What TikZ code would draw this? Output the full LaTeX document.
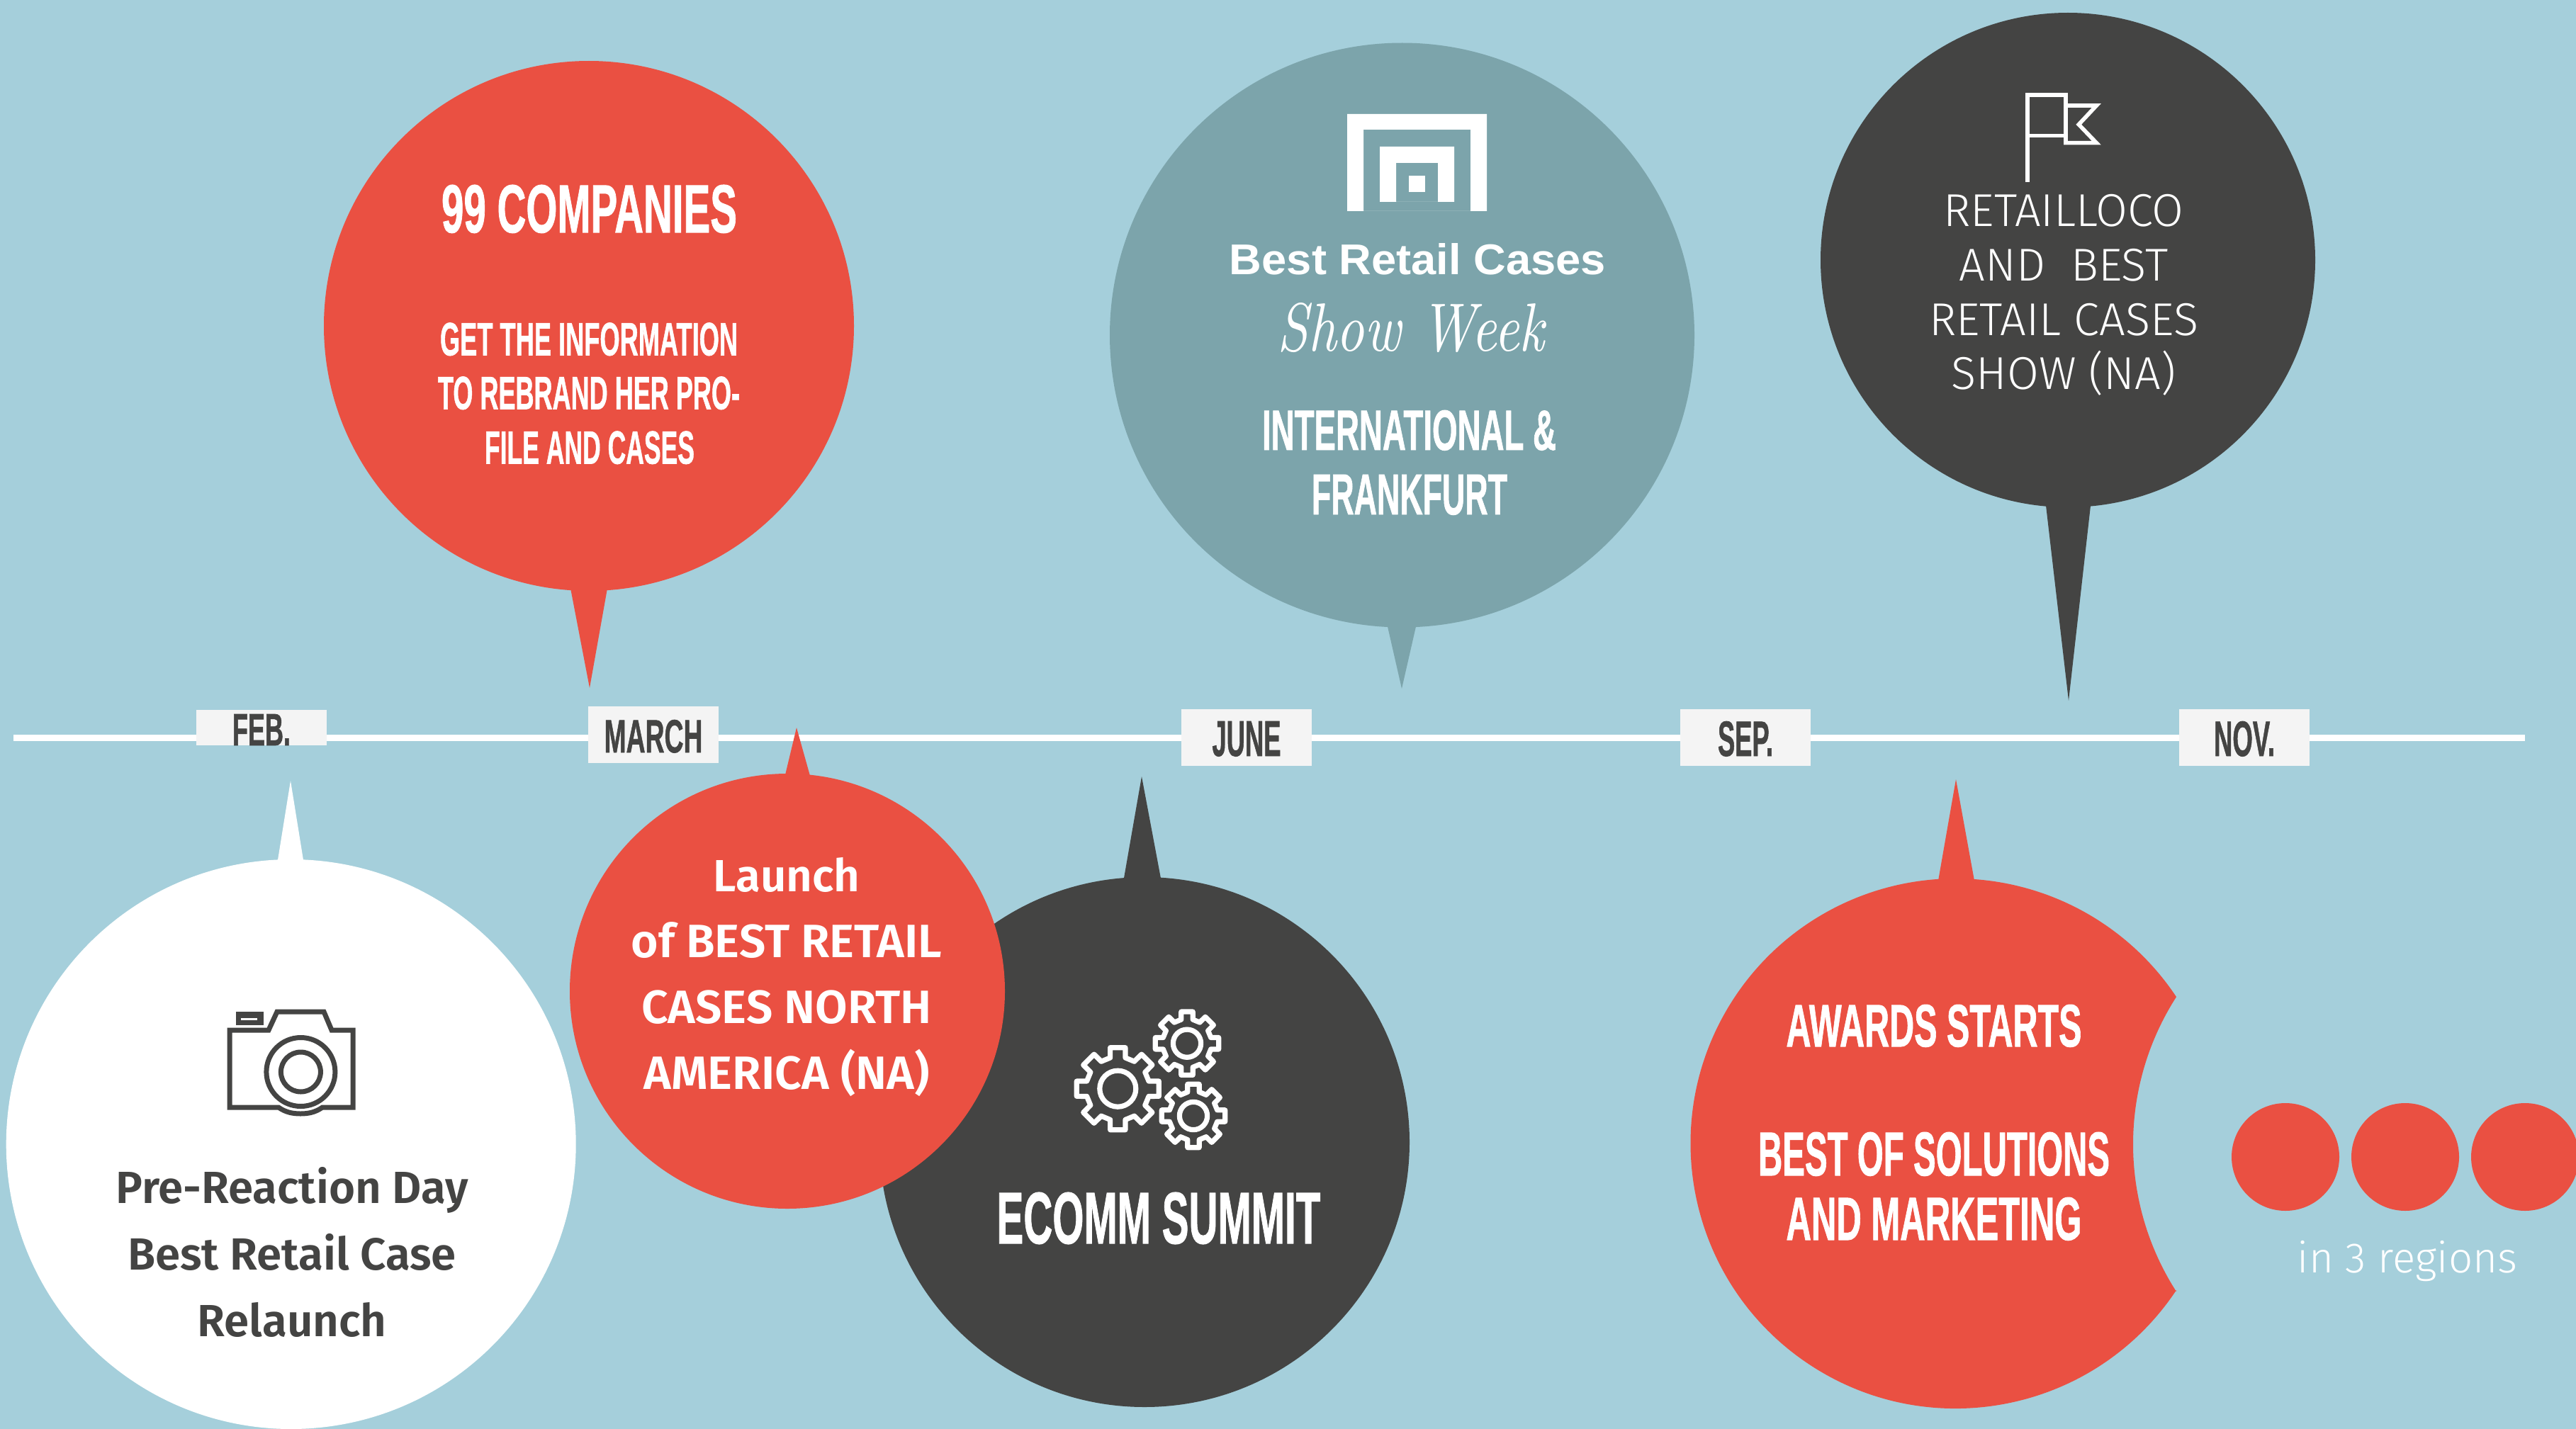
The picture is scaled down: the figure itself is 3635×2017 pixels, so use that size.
\documentclass[tikz,border=0pt]{standalone}
\usepackage{fontspec}
\usepackage{graphicx}
\setmainfont{Liberation Sans}
\newfontfamily\lightface{Fira Sans Light}
\newfontfamily\semiface{Fira Sans}[UprightFont={* SemiBold}]
\newfontfamily\capface{Liberation Sans}[UprightFont={* Bold},FakeBold=1.2]
\newfontfamily\logoface{Liberation Sans}[UprightFont={* Bold}]
\definecolor{bgblue}{HTML}{A5CFDB}
\definecolor{coral}{HTML}{EA5042}
\definecolor{slate}{HTML}{444443}
\definecolor{teal}{HTML}{7CA4AB}
\definecolor{tagbg}{HTML}{F4F4F4}
% fit text to measured width and cap height (pixels of the reference)
\newcommand{\bb}[3]{\resizebox{\dimexpr #1pt/2\relax}{\dimexpr #2pt/2\relax}{#3}}
\newcommand{\gearicon}[3]{%
 \begin{scope}[shift={(#1,#2)},scale=#3]
  \draw[gearline] (-13.8:45) foreach \a in {0,45,...,315} {
    -- ({\a-13.8}:45) -- ({\a-10.4}:59) -- ({\a+10.4}:59) -- ({\a+13.8}:45) -- ({\a+31.2}:45)
  } -- cycle;
  \draw[gearline] (0,0) circle (25.5);
 \end{scope}}
\tikzset{
 gearline/.style={draw=white,line width=3.6pt,line join=round},
 caplabel/.style={anchor=base,inner sep=0pt,text=#1,font=\capface},
 semilabel/.style={anchor=base,inner sep=0pt,text=#1,font=\semiface\fontsize{31.8}{31.8}\selectfont},
 semicaps/.style={anchor=base,inner sep=0pt,text=white,font=\semiface\fontsize{33}{33}\selectfont},
 lightlabel/.style={anchor=base,inner sep=0pt,text=white,font=\lightface\fontsize{32.5}{33}\selectfont},
 tagbox/.style={fill=tagbg,draw=none},
 camline/.style={draw=slate,line width=3.5pt,line join=miter,fill=none},
}
\begin{document}
\begin{tikzpicture}[x=0.5pt,y=-0.5pt]
\useasboundingbox (0,0) rectangle (3635,2017);
\clip (0,0) rectangle (3635,2017);
\fill[bgblue] (0,0) rectangle (3635,2017);

% timeline
\draw[white,line width=4.5pt] (19,1041) -- (3563,1041);
\fill[tagbox] (277,1002) rectangle (461,1052);
\fill[tagbox] (830,997) rectangle (1014,1077);
\fill[tagbox] (1667,1001) rectangle (1851,1081);
\fill[tagbox] (2371,1001) rectangle (2555,1081);
\fill[tagbox] (3075,1001) rectangle (3259,1081);
\node[caplabel=slate] (feb) at (369,1052) {\bb{82}{44}{FEB.}};
\node[caplabel=slate] (march) at (922,1062) {\bb{139}{46}{MARCH}};
\node[caplabel=slate] (june) at (1759,1067) {\bb{97}{49}{JUNE}};
\node[caplabel=slate] (sep) at (2463,1067) {\bb{78}{49}{SEP.}};
\node[caplabel=slate] (nov) at (3167,1067) {\bb{86}{49}{NOV.}};

% top-left coral bubble
\fill[coral] (831,460) circle (374);
\fill[coral] (804,825) -- (832,971) -- (858,825) -- cycle;
\node[caplabel=white] (t99) at (831.5,328) {\bb{417}{67}{99 COMPANIES}};
\node[caplabel=white] (t99a) at (831,501.5) {\bb{420}{46}{GET THE INFORMATION}};
\node[caplabel=white] (t99b) at (831,577.5) {\bb{426}{46}{TO REBRAND HER PRO-}};
\node[caplabel=white] (t99c) at (832,654.5) {\bb{296}{46}{FILE AND CASES}};

% teal bubble
\fill[teal] (1978.5,473) circle (412.5);
\fill[teal] (1957,880) -- (1978,972) -- (1999,880) -- cycle;
\fill[white,even odd rule] (1901,161) rectangle (2098,298) (1924,183) rectangle (2075,298);
\fill[white,even odd rule] (1947,207) rectangle (2052,285) (1970,230) rectangle (2029,285);
\fill[white] (1988,248.5) rectangle (2011,271.5);
\node[anchor=base,inner sep=0pt,text=white,font=\logoface] (brc) at (2000.5,387) {\bb{531}{44}{Best Retail Cases}};
\node[anchor=base,inner sep=0pt,text=white,font=\rmfamily] (show) at (1991,495) {\bb{377}{68}{\fontspec{Latin Modern Roman}[Ligatures=TeX]\itshape Show Week}};
\node[caplabel=white] (intl) at (1988.5,635) {\bb{415}{56}{INTERNATIONAL \&}};
\node[caplabel=white] (fra) at (1989,726) {\bb{276}{56}{FRANKFURT}};

% top-right dark bubble
\fill[slate] (2918,367) circle (349);
\fill[slate] (2886,705) -- (2919,989) -- (2951,705) -- cycle;
\draw[white,line width=2.8pt,line join=miter] (2861,257) -- (2861,134.3) -- (2915,134.3) -- (2915,191.7) -- (2861,191.7);
\draw[white,line width=2.8pt,line join=miter] (2915,149) -- (2958.3,149) -- (2933.3,175.7) -- (2958.3,201.7) -- (2915,201.7) -- (2915,191.7);
\node[lightlabel] (rl1) at (2912,320) {RETAILLOCO};
\node[lightlabel] (rl2) at (2912,396.5) {AND~ BEST};
\node[lightlabel] (rl3) at (2912,473) {RETAIL CASES};
\node[lightlabel] (rl4) at (2912,549.5) {SHOW (NA)};

% white bubble
\fill[white] (410.7,1615) circle (402);
\fill[white] (391,1220) -- (410,1102) -- (429,1220) -- cycle;
\draw[camline] (324,1563) -- (324,1454) -- (379,1454) -- (391,1428) -- (457,1428) -- (468,1454) -- (498,1454) -- (498,1563) -- (455,1563) .. controls (445,1570) and (435,1572) .. (424,1572) .. controls (413,1572) and (403,1570) .. (393,1563) -- cycle;
\draw[slate,line width=3.5pt] (424.4,1513) circle (48.5);
\draw[slate,line width=3.5pt] (424.4,1513) circle (28);
\fill[slate] (332.5,1428) rectangle (372,1447);
\fill[white] (340,1437) rectangle (363,1440);
\node[semilabel=slate] (pr1) at (412,1698.5) {Pre-Reaction Day};
\node[semilabel=slate] (pr2) at (412,1792) {Best Retail Case};
\node[semilabel=slate] (pr3) at (412,1886) {Relaunch};

% dark ecomm bubble
\fill[slate] (1615,1612) circle (374);
\fill[slate] (1585,1245) -- (1611,1096) -- (1639,1245) -- cycle;
\gearicon{1577.3}{1536.7}{1}
\gearicon{1675}{1472.7}{0.77}
\gearicon{1684}{1575}{0.77}
\node[caplabel=white] (ecomm) at (1635,1755) {\bb{457}{72}{ECOMM SUMMIT}};

% coral launch bubble
\fill[coral] (1111,1399) circle (307);
\fill[coral] (1106,1102) -- (1124,1027) -- (1145,1102) -- cycle;
\node[semilabel=white] (la1) at (1110,1258) {Launch};
\node[semicaps] (la2) at (1110,1351) {of BEST RETAIL};
\node[semicaps] (la3) at (1110,1444) {CASES NORTH};
\node[semicaps] (la4) at (1110,1537) {AMERICA (NA)};

% awards bubble with concave right side
\fill[coral] (3071,1821) arc[start angle=33.6,end angle=326.4,radius=374] arc[start angle=212.7,end angle=147.3,radius=385] -- cycle;
\fill[coral] (2735,1243) -- (2760,1100) -- (2786,1243) -- cycle;
\node[caplabel=white] (aw1) at (2729,1477) {\bb{417}{59}{AWARDS STARTS}};
\node[caplabel=white] (aw2) at (2729,1659) {\bb{496}{61}{BEST OF SOLUTIONS}};
\node[caplabel=white] (aw3) at (2729,1750) {\bb{417}{60}{AND MARKETING}};

% three dots
\fill[coral] (3225,1633) circle (76);
\fill[coral] (3394,1633) circle (76);
\fill[coral] (3563,1633) circle (76);
\node[lightlabel,font=\lightface\fontsize{30}{30}\selectfont] (reg) at (3397,1796) {in 3 regions};
\end{tikzpicture}
\end{document}
